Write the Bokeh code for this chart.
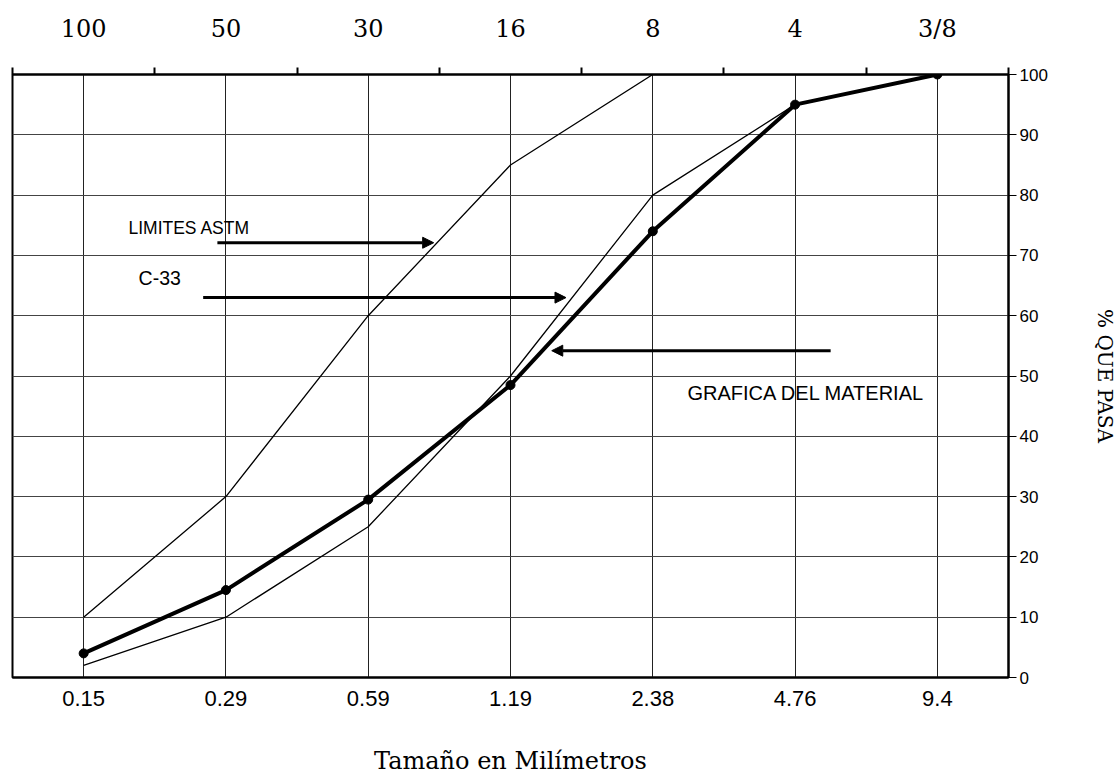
from bokeh.plotting import figure
from bokeh.models import (LinearAxis, FixedTicker, Range1d, Arrow, NormalHead, Label)
from bokeh.embed import file_html
from bokeh.resources import INLINE

# ---- data ----
sizes_mm = ["0.15", "0.29", "0.59", "1.19", "2.38", "4.76", "9.4"]
sieves = ["100", "50", "30", "16", "8", "4", "3/8"]
upper_limit = [10, 30, 60, 85, 100, 100, 100]
lower_limit = [2, 10, 25, 50, 80, 95, 100]
material = [4, 14.5, 29.5, 48.5, 74, 95, 100]
pct_ticks = [0, 10, 20, 30, 40, 50, 60, 70, 80, 90, 100]

xpos = list(range(len(sizes_mm)))

SANS = "Liberation Sans"
SERIF = "DejaVu Serif"

p = figure(width=1119, height=780, output_backend="svg", toolbar_location=None,
           x_range=Range1d(-0.5, 6.5), y_range=Range1d(0, 100),
           x_axis_location="below", y_axis_location="right",
           min_border_left=12, min_border_right=111, min_border_top=74, min_border_bottom=103)
p.background_fill_color = "white"
p.border_fill_color = "white"
p.outline_line_color = "black"
p.outline_line_width = 2

# bottom axis
bx = p.below[0]
bx.ticker = FixedTicker(ticks=xpos, minor_ticks=[])
bx.major_label_overrides = {i: s for i, s in zip(xpos, sizes_mm)}
bx.major_tick_out = 0
bx.major_tick_in = 0
bx.minor_tick_out = 0
bx.minor_tick_in = 0
bx.axis_line_width = 2
bx.axis_line_color = "black"
bx.major_label_text_font = SANS
bx.major_label_text_font_size = "22px"
bx.major_label_text_color = "black"
bx.major_label_standoff = 13
bx.axis_label = "Tamaño en Milímetros"
bx.axis_label_text_font = SERIF
bx.axis_label_text_font_size = "24px"
bx.axis_label_text_font_style = "normal"
bx.axis_label_text_color = "black"
bx.axis_label_standoff = 38

# right axis
ry = p.right[0]
ry.ticker = FixedTicker(ticks=pct_ticks, minor_ticks=[])
ry.major_tick_out = 8
ry.major_tick_in = 0
ry.minor_tick_out = 0
ry.minor_tick_in = 0
ry.axis_line_width = 2
ry.axis_line_color = "black"
ry.major_tick_line_color = "black"
ry.major_label_text_font = SANS
ry.major_label_text_font_size = "17px"
ry.major_label_text_color = "black"
ry.major_label_standoff = 3
ry.axis_label = "% QUE PASA"
ry.axis_label_text_font = SERIF
ry.axis_label_text_font_size = "20px"
ry.axis_label_text_font_style = "normal"
ry.axis_label_text_color = "black"
ry.axis_label_standoff = 42

# top axis (sieve numbers)
tx = LinearAxis(ticker=FixedTicker(ticks=xpos, minor_ticks=[i - 0.5 for i in range(len(xpos) + 1)]))
tx.major_label_overrides = {i: s for i, s in zip(xpos, sieves)}
tx.major_tick_out = 0
tx.major_tick_in = 0
tx.minor_tick_out = 7
tx.minor_tick_in = 0
tx.minor_tick_line_color = "black"
tx.minor_tick_line_width = 2
tx.axis_line_width = 2
tx.axis_line_color = "black"
tx.major_label_text_font = SERIF
tx.major_label_text_font_size = "24px"
tx.major_label_text_color = "black"
tx.major_label_standoff = 25
p.add_layout(tx, "above")

# grids
p.xgrid.ticker = FixedTicker(ticks=xpos, minor_ticks=[])
p.ygrid.ticker = FixedTicker(ticks=pct_ticks, minor_ticks=[])
p.xgrid.grid_line_color = "#222222"
p.ygrid.grid_line_color = "#444444"
p.xgrid.grid_line_width = 1
p.ygrid.grid_line_width = 1.2
p.xgrid.grid_line_alpha = 1
p.ygrid.grid_line_alpha = 1

# curves
p.line(xpos, upper_limit, line_color="black", line_width=1.3)
p.line(xpos, lower_limit, line_color="black", line_width=1.3)
p.line(xpos, material, line_color="black", line_width=4)
p.scatter(xpos, material, size=9, color="black")

# annotations
def arrow(x0, y0, x1, y1):
    p.add_layout(Arrow(end=NormalHead(size=11, fill_color="black", line_color="black"),
                       x_start=x0, y_start=y0, x_end=x1, y_end=y1,
                       line_color="black", line_width=3))

arrow(0.94, 72.1, 2.46, 72.1)
arrow(0.84, 63.0, 3.39, 63.0)
arrow(5.25, 54.2, 3.29, 54.2)

for txt, lx, ly, fs in [("LIMITES ASTM", 0.315, 74.6, "17.5px"),
                        ("C-33", 0.386, 66.2, "19.5px"),
                        ("GRAFICA DEL MATERIAL", 4.244, 47.1, "20px")]:
    p.add_layout(Label(x=lx, y=ly, text=txt, text_font=SANS, text_font_size=fs,
                       text_align="left", text_baseline="middle", text_color="black"))

open("out.html", "w").write(file_html(p, INLINE))
